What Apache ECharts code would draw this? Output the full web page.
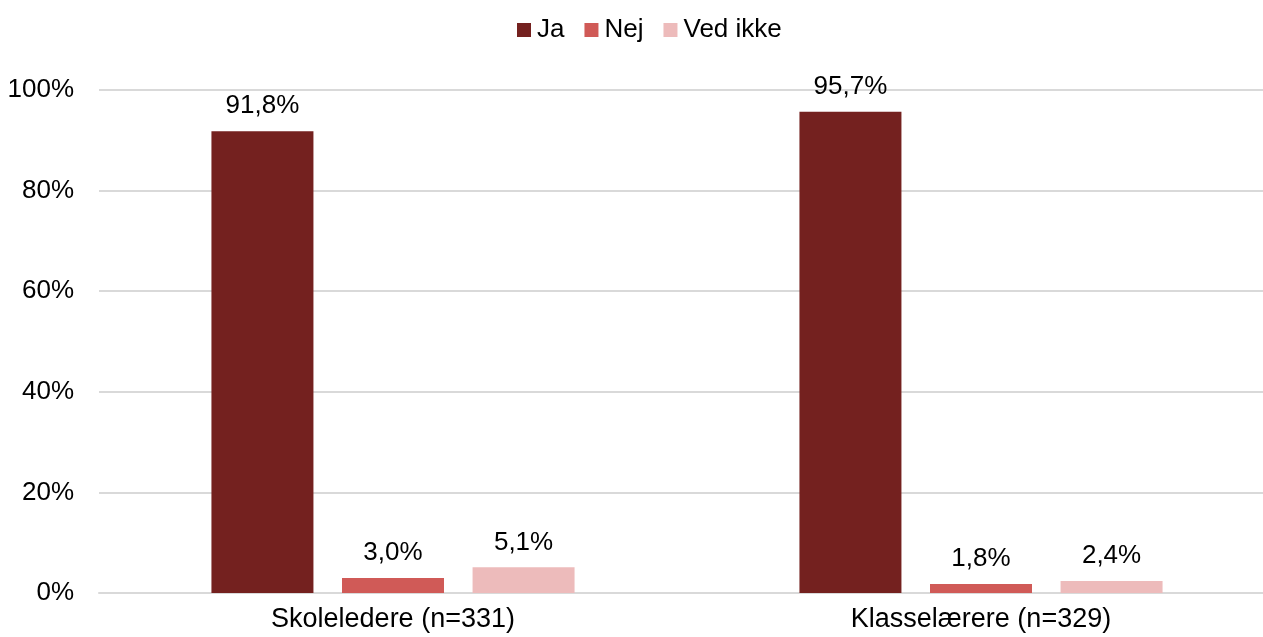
<!DOCTYPE html>
<html><head><meta charset="utf-8">
<script src="https://cdn.jsdelivr.net/npm/echarts@6/dist/echarts.min.js"></script>
<style>html,body{margin:0;padding:0;background:#fff;overflow:hidden;width:1263px;height:637px}#c{width:1275px;height:637px}</style>
</head><body><div id="c"></div>
<script>
const categories = ['Skoleledere (n=331)', 'Klasselærere (n=329)'];
const seriesNames = ['Ja', 'Nej', 'Ved ikke'];
const ja = [91.8, 95.7];
const nej = [3.0, 1.8];
const vedIkke = [5.1, 2.4];
const yTicks = [0, 20, 40, 60, 80, 100];
const colors = ['#74211F', '#D05A57', '#EDBBBB'];

const font = 'Liberation Sans, Arial, sans-serif';
const fmt = v => v.toFixed(1).replace('.', ',') + '%';
const mk = (name, data, color) => ({
  name, type: 'bar', data, barWidth: 102, barGap: '28%', barCategoryGap: '38%',
  itemStyle: { color },
  label: { show: true, position: 'top', distance: 12, color: '#000', fontFamily: font, fontSize: 26,
    formatter: p => fmt(p.value) }
});
const chart = echarts.init(document.getElementById('c'), null, { renderer: 'canvas' });
chart.setOption({
  animation: false,
  textStyle: { fontFamily: font },
  legend: {
    top: 12, left: 512, itemWidth: 14, itemHeight: 14, itemGap: 20,
    icon: 'rect',
    textStyle: { fontFamily: font, fontSize: 26, color: '#000', padding: [0, 0, 0, 1] },
    data: seriesNames
  },
  grid: { left: 99, right: 0, top: 90, bottom: 44, containLabel: false },
  xAxis: {
    type: 'category', data: categories,
    axisLine: { lineStyle: { color: '#D9D9D9', width: 2 } },
    axisTick: { show: false },
    axisLabel: { color: '#000', fontFamily: font, fontSize: 27, margin: 13 }
  },
  yAxis: {
    type: 'value', min: yTicks[0], max: yTicks[yTicks.length - 1], interval: 20,
    axisLine: { show: false }, axisTick: { show: false },
    splitLine: { lineStyle: { color: '#D9D9D9', width: 2 } },
    axisLabel: { color: '#000', fontFamily: font, fontSize: 26, margin: 25, formatter: v => v + '%' }
  },
  series: [mk(seriesNames[0], ja, colors[0]), mk(seriesNames[1], nej, colors[1]), mk(seriesNames[2], vedIkke, colors[2])]
});
</script></body></html>
